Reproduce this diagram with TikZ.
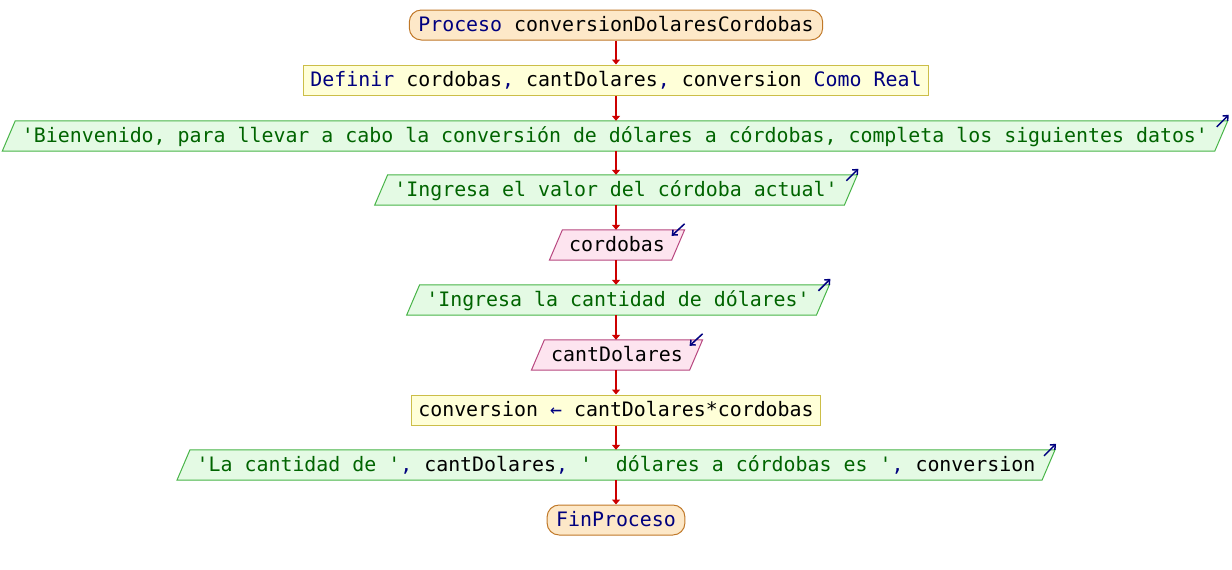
\documentclass[tikz,border=0pt]{standalone}
\usepackage{fontspec}
\newfontfamily\codefont{DejaVu Sans Mono}
\usetikzlibrary{arrows.meta,calc,backgrounds}
\definecolor{kw}{HTML}{00007F}
\definecolor{str}{HTML}{006400}
\definecolor{flowred}{HTML}{CC0000}
\definecolor{procfill}{HTML}{FDE8C8}
\definecolor{procdraw}{HTML}{C07828}
\definecolor{deffill}{HTML}{FFFFD8}
\definecolor{defdraw}{HTML}{CCBE48}
\definecolor{outfill}{HTML}{E4FAE4}
\definecolor{outdraw}{HTML}{48B448}
\definecolor{infill}{HTML}{FDE4EF}
\definecolor{indraw}{HTML}{B84880}
\tikzset{
  base/.style={font=\codefont\fontsize{19.9}{24}\selectfont, minimum height=30pt,
    inner ysep=0pt, text height=14.5pt, text depth=1pt},
  procbox/.style={base, draw=procdraw, fill=procfill, line width=1pt, rounded corners=12pt, inner xsep=9pt, text=kw},
  defbox/.style={base, draw=defdraw, fill=deffill, line width=1pt, inner xsep=7pt},
  outbox/.style={base, inner xsep=13pt, text=str},
  inbox/.style={base, inner xsep=13pt},
  outshape/.style={draw=outdraw, fill=outfill, line width=1pt},
  inshape/.style={draw=indraw, fill=infill, line width=1pt},
  flow/.style={draw=flowred, line width=1.4pt, -{Triangle[length=5pt,width=8pt]}},
  ioicon/.style={draw=kw, line width=1.5pt, -{Straight Barb[length=4pt,width=7pt]}},
}
% slanted input/output shape behind a node
\newcommand\slantbox[2]{%
  \begin{pgfonlayer}{background}
    \path[#2] ($(#1.south west)+(-6.5,0)$) -- ($(#1.north west)+(6.5,0)$)
      -- ($(#1.north east)+(6.5,0)$) -- ($(#1.south east)+(-6.5,0)$) -- cycle;
  \end{pgfonlayer}}
\newcommand\outicon[1]{\draw[ioicon] ($(#1.north east)+(6.5,0)+(-11,6)$) -- ++(12,-12);}
\newcommand\inicon[1]{\draw[ioicon] ($(#1.north east)+(6.5,0)+(0,-6)$) -- ++(-13,12);}
\begin{document}
\begin{tikzpicture}[x=1pt,y=-1pt]
  \useasboundingbox (0,0) rectangle (1232,570);

  \node[procbox] (start) at (616,25) {Proceso {\color{black}conversionDolaresCordobas}};
  \node[defbox] (def) at (616,80) {{\color{kw}Definir} cordobas{\color{kw},} cantDolares{\color{kw},} conversion {\color{kw}Como Real}};
  \node[outbox] (w1) at (615,136) {'Bienvenido, para llevar a cabo la conversión de dólares a córdobas, completa los siguientes datos'};
  \node[outbox] (w2) at (616,190) {'Ingresa el valor del córdoba actual'};
  \node[inbox] (r1) at (617,245) {cordobas};
  \node[outbox] (w3) at (618,300) {'Ingresa la cantidad de dólares'};
  \node[inbox] (r2) at (617,355) {cantDolares};
  \node[defbox] (asg) at (616,410) {conversion {\color{kw}←} cantDolares*cordobas};
  \node[outbox] (w4) at (616,465) {'La cantidad de '{\color{kw},} {\color{black}cantDolares}{\color{kw},} '\ \ dólares a córdobas es '{\color{kw},} {\color{black}conversion}};
  \node[procbox] (stop) at (616,520) {FinProceso};

  \slantbox{w1}{outshape}
  \slantbox{w2}{outshape}
  \slantbox{r1}{inshape}
  \slantbox{w3}{outshape}
  \slantbox{r2}{inshape}
  \slantbox{w4}{outshape}

  \outicon{w1}
  \outicon{w2}
  \inicon{r1}
  \outicon{w3}
  \inicon{r2}
  \outicon{w4}

  \draw[flow] (start.south) -- (def.north);
  \draw[flow] (def.south) -- (def.south |- w1.north);
  \draw[flow] (def.south |- w1.south) -- (def.south |- w2.north);
  \draw[flow] (def.south |- w2.south) -- (def.south |- r1.north);
  \draw[flow] (def.south |- r1.south) -- (def.south |- w3.north);
  \draw[flow] (def.south |- w3.south) -- (def.south |- r2.north);
  \draw[flow] (def.south |- r2.south) -- (asg.north);
  \draw[flow] (asg.south) -- (def.south |- w4.north);
  \draw[flow] (def.south |- w4.south) -- (stop.north);
\end{tikzpicture}
\end{document}
